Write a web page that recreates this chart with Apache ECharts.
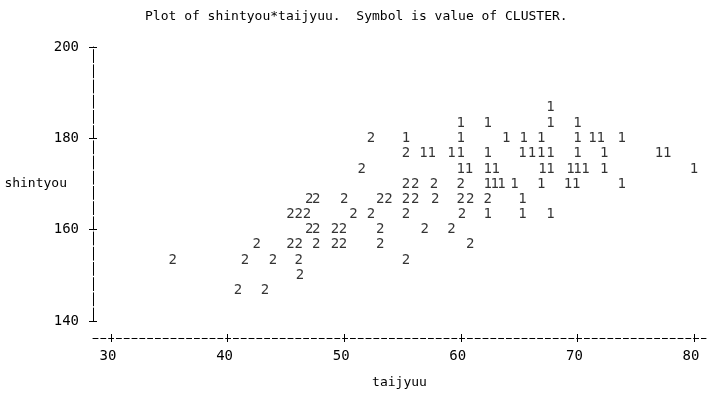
<!DOCTYPE html>
<html>
<head>
<meta charset="utf-8">
<script src="https://cdn.jsdelivr.net/npm/echarts@6/dist/echarts.min.js"></script>
<style>
  html, body { margin: 0; padding: 0; background: #fff; }
  #chart { width: 708px; height: 403px; }
</style>
</head>
<body>
<div id="chart"></div>
<script>
// CLUSTER = 1 : taijyuu (x) / shintyou (y)
const c1Taijyuu = [
  67.7,
  60.0, 62.3, 67.7, 70.0,
  55.3, 60.0, 63.9, 65.4, 66.9, 70.0, 71.3, 72.0, 73.8,
  56.8, 57.5, 59.2, 60.0, 62.3, 65.3, 66.1, 66.9, 67.7, 70.0, 72.3, 77.0, 77.7,
  60.0, 60.7, 62.3, 63.0, 67.0, 67.7, 69.4, 70.0, 70.7, 72.3, 80.0,
  62.3, 62.9, 63.5, 64.6, 66.9, 69.2, 69.9, 73.8,
  65.3,
  62.3, 65.3, 67.7
];
const c1Shintyou = [
  186.7,
  183.3, 183.3, 183.3, 183.3,
  180, 180, 180, 180, 180, 180, 180, 180, 180,
  176.7, 176.7, 176.7, 176.7, 176.7, 176.7, 176.7, 176.7, 176.7, 176.7, 176.7, 176.7, 176.7,
  173.3, 173.3, 173.3, 173.3, 173.3, 173.3, 173.3, 173.3, 173.3, 173.3, 173.3,
  170, 170, 170, 170, 170, 170, 170, 170,
  166.7,
  163.3, 163.3, 163.3
];

// CLUSTER = 2
const c2Taijyuu = [
  52.3,
  55.3,
  51.5,
  55.3, 56.1, 57.7, 60.0,
  47.0, 47.6, 50.0, 53.1, 53.8, 55.3, 56.1, 57.8, 60.0, 60.8, 62.3,
  45.4, 46.1, 46.8, 50.8, 52.3, 55.3, 60.1,
  47.0, 47.6, 49.2, 49.9, 53.1, 56.9, 59.2,
  42.5, 45.4, 46.1, 47.6, 49.2, 49.9, 53.1, 60.8,
  35.3, 41.5, 43.9, 46.1, 55.3,
  46.2,
  40.9, 43.2
];
const c2Shintyou = [
  180,
  176.7,
  173.3,
  170, 170, 170, 170,
  166.7, 166.7, 166.7, 166.7, 166.7, 166.7, 166.7, 166.7, 166.7, 166.7, 166.7,
  163.3, 163.3, 163.3, 163.3, 163.3, 163.3, 163.3,
  160, 160, 160, 160, 160, 160, 160,
  156.7, 156.7, 156.7, 156.7, 156.7, 156.7, 156.7, 156.7,
  153.3, 153.3, 153.3, 153.3, 153.3,
  150,
  146.7, 146.7
];

const xTicks = [30, 40, 50, 60, 70, 80];
const yTicks = [140, 160, 180, 200];

const mono = 'DejaVu Sans Mono';
const xMin = 28.46;
const xMax = 81.03;

function pts(xs, ys) {
  return xs.map((x, i) => [x, ys[i]]);
}

function symbolSeries(name, data) {
  return {
    name: name,
    type: 'scatter',
    data: data,
    symbolSize: 1,
    itemStyle: {color: 'transparent'},
    label: {
      show: true,
      position: 'inside',
      formatter: name,
      color: '#000',
      fontFamily: mono,
      fontSize: 14
    },
    emphasis: {disabled: true}
  };
}

const chart = echarts.init(document.getElementById('chart'));
chart.setOption({
  animation: false,
  title: {
    text: 'Plot of shintyou*taijyuu.  Symbol is value of CLUSTER.',
    left: 145,
    top: 10,
    padding: 0,
    textStyle: {fontFamily: mono, fontSize: 13, fontWeight: 'normal', color: '#000'}
  },
  grid: {left: 93, right: 2, top: 47, bottom: 82, outerBoundsMode: 'none'},
  xAxis: [
    {
      type: 'value',
      min: xMin,
      max: xMax,
      position: 'bottom',
      offset: 17,
      name: 'taijyuu',
      nameLocation: 'middle',
      nameGap: 38,
      nameMoveOverlap: false,
      nameTextStyle: {fontFamily: mono, fontSize: 13, color: '#000'},
      axisLine: {show: true, onZero: false, lineStyle: {color: '#000', width: 1, type: [5, 2.8]}},
      axisTick: {show: false},
      splitLine: {show: false},
      axisLabel: {
        customValues: xTicks,
        margin: 11,
        padding: [0, 6, 0, 0],
        fontFamily: mono,
        fontSize: 14,
        color: '#000'
      }
    },
    {
      type: 'value',
      min: xMin,
      max: xMax,
      position: 'bottom',
      offset: 13,
      axisLine: {show: false},
      axisTick: {show: true, customValues: xTicks, length: 8, lineStyle: {color: '#000'}},
      axisLabel: {show: false},
      splitLine: {show: false}
    }
  ],
  yAxis: [
    {
      type: 'value',
      min: 140,
      max: 200,
      interval: 20,
      position: 'left',
      name: 'shintyou',
      nameLocation: 'middle',
      nameRotate: 0,
      nameGap: 26,
      nameMoveOverlap: false,
      nameTextStyle: {fontFamily: mono, fontSize: 13, color: '#000'},
      axisLine: {show: true, lineStyle: {color: '#000', width: 1, type: [13, 2.2]}},
      axisTick: {show: false},
      splitLine: {show: false},
      axisLabel: {customValues: yTicks, margin: 14, fontFamily: mono, fontSize: 14, color: '#000'}
    },
    {
      type: 'value',
      min: 140,
      max: 200,
      interval: 20,
      position: 'left',
      offset: -4,
      axisLine: {show: false},
      axisTick: {show: true, customValues: yTicks, length: 8, lineStyle: {color: '#000'}},
      axisLabel: {show: false},
      splitLine: {show: false}
    }
  ],
  series: [
    symbolSeries('1', pts(c1Taijyuu, c1Shintyou)),
    symbolSeries('2', pts(c2Taijyuu, c2Shintyou))
  ]
});
</script>
</body>
</html>
